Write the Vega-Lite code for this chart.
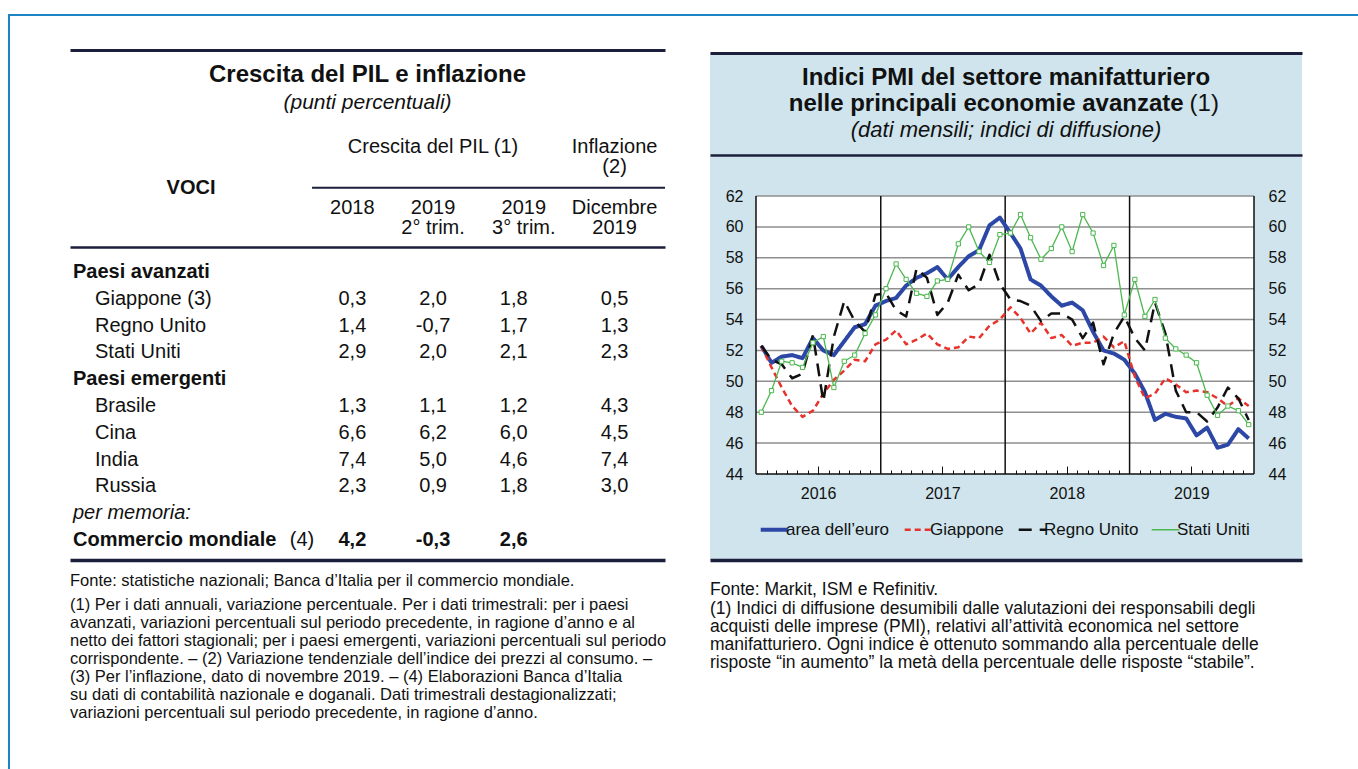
{
  "$schema": "https://vega.github.io/schema/vega-lite/v6.json",
  "padding": {"left": 8, "top": 14, "right": 0, "bottom": 0},
  "background": "white",
  "config": {
    "view": {"stroke": null},
    "font": "Liberation Sans",
    "locale": {"number": {"decimal": ",", "thousands": ".", "grouping": [3], "currency": ["", " €"], "minus": "-"}},
    "text": {"font": "Liberation Sans", "color": "#111"},
    "axis": {"labelFont": "Liberation Sans"},
    "legend": {"labelFont": "Liberation Sans"},
    "title": {"font": "Liberation Sans", "subtitleFont": "Liberation Sans"}
  },
  "datasets": {
    "intestazione": [
      {"riga": "h1", "colonna": "2019 II", "testo": "Crescita del PIL (1)"},
      {"riga": "h1", "colonna": "dic 2019", "testo": "Inflazione"},
      {"riga": "h2", "colonna": "dic 2019", "testo": "(2)"},
      {"riga": "mid", "colonna": "voci_c", "testo": "VOCI"},
      {"riga": "h3", "colonna": "2018", "testo": "2018"},
      {"riga": "h3", "colonna": "2019 II", "testo": "2019"},
      {"riga": "h3", "colonna": "2019 III", "testo": "2019"},
      {"riga": "h3", "colonna": "dic 2019", "testo": "Dicembre"},
      {"riga": "h4", "colonna": "2019 II", "testo": "2° trim."},
      {"riga": "h4", "colonna": "2019 III", "testo": "3° trim."},
      {"riga": "h4", "colonna": "dic 2019", "testo": "2019"}
    ],
    "tabella": [
      {"voce": "Paesi avanzati", "tipo": "gruppo"},
      {"voce": "Giappone (3)", "tipo": "paese", "2018": 0.3, "2019 II": 2.0, "2019 III": 1.8, "dic 2019": 0.5},
      {"voce": "Regno Unito", "tipo": "paese", "2018": 1.4, "2019 II": -0.7, "2019 III": 1.7, "dic 2019": 1.3},
      {"voce": "Stati Uniti", "tipo": "paese", "2018": 2.9, "2019 II": 2.0, "2019 III": 2.1, "dic 2019": 2.3},
      {"voce": "Paesi emergenti", "tipo": "gruppo"},
      {"voce": "Brasile", "tipo": "paese", "2018": 1.3, "2019 II": 1.1, "2019 III": 1.2, "dic 2019": 4.3},
      {"voce": "Cina", "tipo": "paese", "2018": 6.6, "2019 II": 6.2, "2019 III": 6.0, "dic 2019": 4.5},
      {"voce": "India", "tipo": "paese", "2018": 7.4, "2019 II": 5.0, "2019 III": 4.6, "dic 2019": 7.4},
      {"voce": "Russia", "tipo": "paese", "2018": 2.3, "2019 II": 0.9, "2019 III": 1.8, "dic 2019": 3.0},
      {"voce": "per memoria:", "tipo": "nota"},
      {"voce": "Commercio mondiale", "tipo": "totale", "rinvio": "(4)", "2018": 4.2, "2019 II": -0.3, "2019 III": 2.6}
    ],
    "griglia": [{"livello": 46}, {"livello": 48}, {"livello": 50}, {"livello": 52}, {"livello": 54}, {"livello": 56}, {"livello": 58}, {"livello": 60}, {"livello": 62}],
    "separatori": [{"anno": "2016-01-01"}, {"anno": "2017-01-01"}, {"anno": "2018-01-01"}, {"anno": "2019-01-01"}, {"anno": "2020-01-01"}],
    "pmi": [
      {"mese": "2016-01", "area dell’euro": 52.3, "Giappone": 52.3, "Regno Unito": 52.3, "Stati Uniti": 48.0},
      {"mese": "2016-02", "area dell’euro": 51.2, "Giappone": 50.9, "Regno Unito": 51.4, "Stati Uniti": 49.4},
      {"mese": "2016-03", "area dell’euro": 51.6, "Giappone": 49.6, "Regno Unito": 51.1, "Stati Uniti": 51.3},
      {"mese": "2016-04", "area dell’euro": 51.7, "Giappone": 48.4, "Regno Unito": 50.2, "Stati Uniti": 51.2},
      {"mese": "2016-05", "area dell’euro": 51.5, "Giappone": 47.7, "Regno Unito": 50.5, "Stati Uniti": 50.9},
      {"mese": "2016-06", "area dell’euro": 52.8, "Giappone": 48.1, "Regno Unito": 53.0, "Stati Uniti": 52.5},
      {"mese": "2016-07", "area dell’euro": 52.0, "Giappone": 49.2, "Regno Unito": 48.7, "Stati Uniti": 52.9},
      {"mese": "2016-08", "area dell’euro": 51.7, "Giappone": 50.1, "Regno Unito": 52.9, "Stati Uniti": 49.6},
      {"mese": "2016-09", "area dell’euro": 52.6, "Giappone": 50.7, "Regno Unito": 55.2, "Stati Uniti": 51.3},
      {"mese": "2016-10", "area dell’euro": 53.5, "Giappone": 51.4, "Regno Unito": 53.9, "Stati Uniti": 51.7},
      {"mese": "2016-11", "area dell’euro": 53.7, "Giappone": 51.3, "Regno Unito": 53.2, "Stati Uniti": 53.1},
      {"mese": "2016-12", "area dell’euro": 54.9, "Giappone": 52.4, "Regno Unito": 55.6, "Stati Uniti": 54.3},
      {"mese": "2017-01", "area dell’euro": 55.2, "Giappone": 52.7, "Regno Unito": 55.7, "Stati Uniti": 56.0},
      {"mese": "2017-02", "area dell’euro": 55.4, "Giappone": 53.3, "Regno Unito": 54.6, "Stati Uniti": 57.6},
      {"mese": "2017-03", "area dell’euro": 56.2, "Giappone": 52.4, "Regno Unito": 54.2, "Stati Uniti": 56.6},
      {"mese": "2017-04", "area dell’euro": 56.7, "Giappone": 52.7, "Regno Unito": 57.3, "Stati Uniti": 55.7},
      {"mese": "2017-05", "area dell’euro": 57.0, "Giappone": 53.1, "Regno Unito": 56.7, "Stati Uniti": 55.5},
      {"mese": "2017-06", "area dell’euro": 57.4, "Giappone": 52.4, "Regno Unito": 54.3, "Stati Uniti": 56.5},
      {"mese": "2017-07", "area dell’euro": 56.6, "Giappone": 52.1, "Regno Unito": 55.1, "Stati Uniti": 56.6},
      {"mese": "2017-08", "area dell’euro": 57.4, "Giappone": 52.2, "Regno Unito": 56.9, "Stati Uniti": 58.9},
      {"mese": "2017-09", "area dell’euro": 58.1, "Giappone": 52.9, "Regno Unito": 55.9, "Stati Uniti": 60.0},
      {"mese": "2017-10", "area dell’euro": 58.5, "Giappone": 52.8, "Regno Unito": 56.3, "Stati Uniti": 58.4},
      {"mese": "2017-11", "area dell’euro": 60.1, "Giappone": 53.6, "Regno Unito": 58.2, "Stati Uniti": 57.7},
      {"mese": "2017-12", "area dell’euro": 60.6, "Giappone": 54.0, "Regno Unito": 56.3, "Stati Uniti": 59.5},
      {"mese": "2018-01", "area dell’euro": 59.6, "Giappone": 54.8, "Regno Unito": 55.3, "Stati Uniti": 59.6},
      {"mese": "2018-02", "area dell’euro": 58.6, "Giappone": 54.1, "Regno Unito": 55.2, "Stati Uniti": 60.8},
      {"mese": "2018-03", "area dell’euro": 56.6, "Giappone": 53.1, "Regno Unito": 54.9, "Stati Uniti": 59.3},
      {"mese": "2018-04", "area dell’euro": 56.2, "Giappone": 53.8, "Regno Unito": 53.9, "Stati Uniti": 57.9},
      {"mese": "2018-05", "area dell’euro": 55.5, "Giappone": 52.8, "Regno Unito": 54.4, "Stati Uniti": 58.6},
      {"mese": "2018-06", "area dell’euro": 54.9, "Giappone": 53.0, "Regno Unito": 54.4, "Stati Uniti": 60.0},
      {"mese": "2018-07", "area dell’euro": 55.1, "Giappone": 52.3, "Regno Unito": 54.0, "Stati Uniti": 58.4},
      {"mese": "2018-08", "area dell’euro": 54.6, "Giappone": 52.5, "Regno Unito": 52.8, "Stati Uniti": 60.8},
      {"mese": "2018-09", "area dell’euro": 53.2, "Giappone": 52.5, "Regno Unito": 53.8, "Stati Uniti": 59.6},
      {"mese": "2018-10", "area dell’euro": 52.0, "Giappone": 52.9, "Regno Unito": 51.1, "Stati Uniti": 57.5},
      {"mese": "2018-11", "area dell’euro": 51.8, "Giappone": 52.2, "Regno Unito": 53.1, "Stati Uniti": 58.8},
      {"mese": "2018-12", "area dell’euro": 51.4, "Giappone": 52.6, "Regno Unito": 54.2, "Stati Uniti": 54.3},
      {"mese": "2019-01", "area dell’euro": 50.5, "Giappone": 50.3, "Regno Unito": 52.8, "Stati Uniti": 56.6},
      {"mese": "2019-02", "area dell’euro": 49.3, "Giappone": 48.9, "Regno Unito": 52.0, "Stati Uniti": 54.2},
      {"mese": "2019-03", "area dell’euro": 47.5, "Giappone": 49.2, "Regno Unito": 55.1, "Stati Uniti": 55.3},
      {"mese": "2019-04", "area dell’euro": 47.9, "Giappone": 50.2, "Regno Unito": 53.1, "Stati Uniti": 52.8},
      {"mese": "2019-05", "area dell’euro": 47.7, "Giappone": 49.8, "Regno Unito": 49.4, "Stati Uniti": 52.1},
      {"mese": "2019-06", "area dell’euro": 47.6, "Giappone": 49.3, "Regno Unito": 48.0, "Stati Uniti": 51.7},
      {"mese": "2019-07", "area dell’euro": 46.5, "Giappone": 49.4, "Regno Unito": 48.0, "Stati Uniti": 51.2},
      {"mese": "2019-08", "area dell’euro": 47.0, "Giappone": 49.3, "Regno Unito": 47.4, "Stati Uniti": 49.1},
      {"mese": "2019-09", "area dell’euro": 45.7, "Giappone": 48.9, "Regno Unito": 48.3, "Stati Uniti": 47.8},
      {"mese": "2019-10", "area dell’euro": 45.9, "Giappone": 48.4, "Regno Unito": 49.6, "Stati Uniti": 48.4},
      {"mese": "2019-11", "area dell’euro": 46.9, "Giappone": 48.9, "Regno Unito": 48.9, "Stati Uniti": 48.1},
      {"mese": "2019-12", "area dell’euro": 46.3, "Giappone": 48.4, "Regno Unito": 47.5, "Stati Uniti": 47.2}
    ]
  },
  "spacing": 0,
  "vconcat": [
    {"width": 1350, "height": 2, "data": {"values": []}, "mark": "point", "view": {"fill": "#1c83c5", "stroke": null}},
    {
      "spacing": 0,
      "hconcat": [
        {"width": 2, "height": 753, "data": {"values": []}, "mark": "point", "view": {"fill": "#1c83c5", "stroke": null}},
        {"width": 60, "height": 10, "data": {"values": []}, "mark": "point"},
        {
          "spacing": 0,
          "bounds": "flush",
          "vconcat": [
            {"width": 595, "height": 34, "data": {"values": []}, "mark": "point"},
            {
              "width": 595, "height": 75,
              "data": {"values": [
                {"tabella": "PIL", "riga": "titolo", "testo": "Crescita del PIL e inflazione"},
                {"tabella": "PIL", "riga": "sottotitolo", "testo": "(punti percentuali)"}
              ]},
              "encoding": {
                "x": {"field": "tabella", "type": "nominal", "scale": {"type": "point"},
                      "axis": {"orient": "top", "domain": true, "domainColor": "#1b1f3b", "domainWidth": 3, "ticks": false, "labels": false, "grid": false, "title": null}},
                "y": {"field": "riga", "type": "nominal", "scale": {"type": "point", "domain": ["titolo", "sottotitolo"], "padding": 0.839, "align": 0.532}, "axis": null},
                "text": {"field": "testo"}
              },
              "layer": [
                {"transform": [{"filter": "datum.riga === 'titolo'"}], "mark": {"type": "text", "fontSize": 24, "fontWeight": "bold", "color": "#111"}},
                {"transform": [{"filter": "datum.riga === 'sottotitolo'"}], "mark": {"type": "text", "fontSize": 21, "fontStyle": "italic", "color": "#111"}}
              ]
            },
            {
              "width": 595, "height": 122,
              "layer": [
                {
                  "data": {"name": "intestazione"},
                  "transform": [{"filter": "datum.testo !== 'VOCI'"}],
                  "mark": {"type": "text", "fontSize": 20, "color": "#111"},
                  "encoding": {
                    "x": {"field": "colonna", "type": "nominal",
                          "scale": {"type": "point", "padding": 0, "domain": ["voci", "g1", "g2", "g3", "g4", "g5", "g6", "g7", "g8", "g9", "g10", "g11", "voci_c", "g13", "g14", "g15", "g16", "g17", "g18", "g19", "g20", "g21", "g22", "rinvio", "inizio", "g25", "g26", "g27", "2018", "g29", "g30", "g31", "g32", "g33", "g34", "g35", "2019 II", "g37", "g38", "g39", "g40", "g41", "g42", "g43", "g44", "2019 III", "g46", "g47", "g48", "g49", "g50", "g51", "g52", "g53", "dic 2019", "g55", "g56", "g57", "g58", "fine"]},
                          "axis": {"orient": "top", "domain": true, "domainColor": "#1b1f3b", "domainWidth": 2.5, "ticks": false, "labels": false, "grid": false, "title": null}},
                    "y": {"field": "riga", "type": "nominal", "scale": {"type": "point", "domain": ["h1", "h2", "mid", "h3", "h4"], "padding": 1.03, "align": 0.54}, "axis": null},
                    "text": {"field": "testo"}
                  }
                },
                {
                  "data": {"name": "intestazione"},
                  "transform": [{"filter": "datum.testo === 'VOCI'"}],
                  "mark": {"type": "text", "fontSize": 20, "fontWeight": "bold", "color": "#111"},
                  "encoding": {
                    "x": {"field": "colonna", "type": "nominal", "axis": null},
                    "y": {"field": "riga", "type": "nominal", "axis": null},
                    "text": {"field": "testo"}
                  }
                },
                {
                  "data": {"values": [{"riga": "mid", "da": "inizio", "a": "fine"}]},
                  "mark": {"type": "rule", "color": "#1b1f3b", "strokeWidth": 2},
                  "encoding": {
                    "x": {"field": "da", "type": "nominal", "axis": null},
                    "x2": {"field": "a"},
                    "y": {"field": "riga", "type": "nominal", "axis": null}
                  }
                }
              ]
            },
            {
              "width": 595, "height": 313,
              "title": {
                "text": "Fonte: statistiche nazionali; Banca d’Italia per il commercio mondiale.",
                "subtitle": [
                  "(1) Per i dati annuali, variazione percentuale. Per i dati trimestrali: per i paesi",
                  "avanzati, variazioni percentuali sul periodo precedente, in ragione d’anno e al",
                  "netto dei fattori stagionali; per i paesi emergenti, variazioni percentuali sul periodo",
                  "corrispondente. – (2) Variazione tendenziale dell’indice dei prezzi al consumo. –",
                  "(3) Per l’inflazione, dato di novembre 2019. – (4) Elaborazioni Banca d’Italia",
                  "su dati di contabilità nazionale e doganali. Dati trimestrali destagionalizzati;",
                  "variazioni percentuali sul periodo precedente, in ragione d’anno."
                ],
                "orient": "bottom", "anchor": "start", "frame": "group", "offset": 13,
                "fontSize": 16.5, "fontWeight": "normal", "color": "#111",
                "subtitleFontSize": 16.5, "subtitleColor": "#111", "subtitleLineHeight": 18, "subtitlePadding": 7
              },
              "data": {"name": "tabella"},
              "layer": [
                {
                  "transform": [{"filter": "datum.tipo === 'gruppo'"}],
                  "mark": {"type": "text", "align": "left", "fontSize": 20, "fontWeight": "bold", "dx": 3},
                  "encoding": {
                    "x": {"datum": "voci", "type": "nominal",
                          "scale": {"type": "point", "padding": 0, "domain": ["voci", "g1", "g2", "g3", "g4", "g5", "g6", "g7", "g8", "g9", "g10", "g11", "voci_c", "g13", "g14", "g15", "g16", "g17", "g18", "g19", "g20", "g21", "g22", "rinvio", "inizio", "g25", "g26", "g27", "2018", "g29", "g30", "g31", "g32", "g33", "g34", "g35", "2019 II", "g37", "g38", "g39", "g40", "g41", "g42", "g43", "2019 III", "g45", "g46", "g47", "g48", "g49", "g50", "g51", "g52", "g53", "dic 2019", "g55", "g56", "g57", "g58", "fine"]},
                          "axis": {"orient": "top", "domain": true, "domainColor": "#1b1f3b", "domainWidth": 2.5, "ticks": false, "labels": false, "grid": false, "title": null}},
                    "y": {"field": "voce", "type": "nominal",
                          "scale": {"type": "point", "padding": 0.84, "align": 0.556, "domain": ["Paesi avanzati", "Giappone (3)", "Regno Unito", "Stati Uniti", "Paesi emergenti", "Brasile", "Cina", "India", "Russia", "per memoria:", "Commercio mondiale"]},
                          "axis": null},
                    "text": {"field": "voce"}
                  }
                },
                {
                  "transform": [{"filter": "datum.tipo === 'paese'"}],
                  "mark": {"type": "text", "align": "left", "fontSize": 20, "dx": 25},
                  "encoding": {
                    "x": {"datum": "voci", "type": "nominal", "axis": null},
                    "y": {"field": "voce", "type": "nominal", "axis": null},
                    "text": {"field": "voce"}
                  }
                },
                {
                  "transform": [{"filter": "datum.tipo === 'nota'"}],
                  "mark": {"type": "text", "align": "left", "fontSize": 20, "fontStyle": "italic", "dx": 3},
                  "encoding": {
                    "x": {"datum": "voci", "type": "nominal", "axis": null},
                    "y": {"field": "voce", "type": "nominal", "axis": null},
                    "text": {"field": "voce"}
                  }
                },
                {
                  "transform": [{"filter": "datum.tipo === 'totale'"}],
                  "mark": {"type": "text", "align": "left", "fontSize": 20, "fontWeight": "bold", "dx": 3},
                  "encoding": {
                    "x": {"datum": "voci", "type": "nominal", "axis": null},
                    "y": {"field": "voce", "type": "nominal", "axis": null},
                    "text": {"field": "voce"}
                  }
                },
                {
                  "transform": [{"filter": "datum.tipo === 'totale'"}],
                  "mark": {"type": "text", "fontSize": 20},
                  "encoding": {
                    "x": {"datum": "rinvio", "type": "nominal", "axis": null},
                    "y": {"field": "voce", "type": "nominal", "axis": null},
                    "text": {"field": "rinvio"}
                  }
                },
                {
                  "transform": [
                    {"fold": ["2018", "2019 II", "2019 III", "dic 2019"], "as": ["periodo", "valore"]},
                    {"filter": "datum.tipo === 'paese' && isValid(datum.valore)"}
                  ],
                  "mark": {"type": "text", "fontSize": 20},
                  "encoding": {
                    "x": {"field": "periodo", "type": "nominal",
                          "axis": {"orient": "bottom", "domain": true, "domainColor": "#1b1f3b", "domainWidth": 3.5, "ticks": false, "labels": false, "grid": false, "title": null}},
                    "y": {"field": "voce", "type": "nominal", "axis": null},
                    "text": {"field": "valore", "type": "quantitative", "format": ".1f"}
                  }
                },
                {
                  "transform": [
                    {"fold": ["2018", "2019 II", "2019 III", "dic 2019"], "as": ["periodo", "valore"]},
                    {"filter": "datum.tipo === 'totale' && isValid(datum.valore)"}
                  ],
                  "mark": {"type": "text", "fontSize": 20, "fontWeight": "bold"},
                  "encoding": {
                    "x": {"field": "periodo", "type": "nominal", "axis": null},
                    "y": {"field": "voce", "type": "nominal", "axis": null},
                    "text": {"field": "valore", "type": "quantitative", "format": ".1f"}
                  }
                }
              ],
              "resolve": {"axis": {"x": "independent"}}
            }
          ]
        },
        {"width": 43, "height": 10, "data": {"values": []}, "mark": "point"},
        {
          "spacing": 0,
          "bounds": "flush",
          "vconcat": [
            {"width": 592, "height": 37, "data": {"values": []}, "mark": "point"},
            {
              "width": 592, "height": 102,
              "view": {"fill": "#cfe4ec", "stroke": null},
              "data": {"values": [
                {"riga": "r1", "colonna": "centro", "elemento": "titolo", "testo": "Indici PMI del settore manifatturiero"},
                {"riga": "r2", "colonna": "rinvio", "elemento": "titolo", "testo": "nelle principali economie avanzate"},
                {"riga": "r2", "colonna": "rinvio", "elemento": "richiamo", "testo": "(1)"},
                {"riga": "r3", "colonna": "centro", "elemento": "sottotitolo", "testo": "(dati mensili; indici di diffusione)"}
              ]},
              "encoding": {
                "x": {"field": "colonna", "type": "nominal",
                      "scale": {"type": "point", "padding": 0, "domain": ["p0", "p1", "p2", "p3", "p4", "p5", "p6", "p7", "p8", "p9", "p10", "p11", "p12", "p13", "p14", "p15", "p16", "p17", "p18", "p19", "p20", "p21", "p22", "p23", "p24", "p25", "p26", "p27", "p28", "p29", "centro", "p31", "p32", "p33", "p34", "p35", "p36", "p37", "p38", "p39", "p40", "p41", "p42", "p43", "p44", "p45", "p46", "p47", "rinvio", "p49", "p50", "p51", "p52", "p53", "p54", "p55", "p56", "p57", "p58", "p59", "p60"]},
                      "axis": {"orient": "top", "domain": true, "domainColor": "#1b1f3b", "domainWidth": 3, "ticks": false, "labels": false, "grid": false, "title": null}},
                "y": {"field": "riga", "type": "nominal", "scale": {"type": "point", "domain": ["r1", "r2", "r3"], "padding": 0.96}, "axis": null},
                "text": {"field": "testo"}
              },
              "layer": [
                {"transform": [{"filter": "datum.riga === 'r1'"}], "mark": {"type": "text", "fontSize": 24, "fontWeight": "bold", "color": "#111"}},
                {"transform": [{"filter": "datum.riga === 'r2' && datum.elemento === 'titolo'"}], "mark": {"type": "text", "align": "right", "fontSize": 24, "fontWeight": "bold", "color": "#111"}},
                {"transform": [{"filter": "datum.elemento === 'richiamo'"}], "mark": {"type": "text", "align": "left", "dx": 6, "fontSize": 24, "color": "#111"}},
                {"transform": [{"filter": "datum.riga === 'r3'"}], "mark": {"type": "text", "fontSize": 22, "fontStyle": "italic", "color": "#111"}}
              ]
            },
            {
              "width": 592, "height": 405,
              "view": {"fill": "#cfe4ec", "stroke": null},
              "title": {
                "text": "Fonte: Markit, ISM e Refinitiv.",
                "subtitle": [
                  "(1) Indici di diffusione desumibili dalle valutazioni dei responsabili degli",
                  "acquisti delle imprese (PMI), relativi all’attività economica nel settore",
                  "manifatturiero. Ogni indice è ottenuto sommando alla percentuale delle",
                  "risposte “in aumento” la metà della percentuale delle risposte “stabile”."
                ],
                "orient": "bottom", "anchor": "start", "frame": "group", "offset": 21,
                "fontSize": 17.5, "fontWeight": "normal", "color": "#111",
                "subtitleFontSize": 17.5, "subtitleColor": "#111", "subtitleLineHeight": 18, "subtitlePadding": 1
              },
              "layer": [
                {
                  "data": {"values": [{"riquadro": "area del grafico"}]},
                  "mark": {"type": "rect", "fill": "white"},
                  "encoding": {
                    "x": {"datum": {"year": 2016, "month": 1, "date": 1, "utc": true}, "type": "temporal",
                          "scale": {"type": "utc", "nice": false, "domain": [{"year": 2015, "month": 8, "date": 19, "hours": 1, "utc": true}, {"year": 2020, "month": 5, "date": 20, "hours": 19, "minutes": 41, "utc": true}]},
                          "axis": {"orient": "top", "domain": true, "domainColor": "#1b1f3b", "domainWidth": 2.5, "ticks": false, "labels": false, "grid": false, "title": null}},
                    "x2": {"datum": {"year": 2020, "month": 1, "date": 1, "utc": true}},
                    "y": {"datum": 44, "type": "quantitative", "scale": {"domain": [38.432, 64.655], "nice": false, "zero": false},
                          "axis": {"orient": "left", "offset": -46, "values": [44, 46, 48, 50, 52, 54, 56, 58, 60, 62], "domain": false, "ticks": false, "grid": false, "labelPadding": 13, "labelFontSize": 16, "labelColor": "#111", "labelFlush": false, "labelOverlap": false, "title": null}},
                    "y2": {"datum": 62}
                  }
                },
                {
                  "data": {"name": "griglia"},
                  "mark": {"type": "rule", "color": "#8f8f8f", "strokeWidth": 1.5},
                  "encoding": {
                    "x": {"datum": {"year": 2016, "month": 1, "date": 1, "utc": true}, "type": "temporal", "axis": null},
                    "x2": {"datum": {"year": 2020, "month": 1, "date": 1, "utc": true}},
                    "y": {"field": "livello", "type": "quantitative", "axis": null}
                  }
                },
                {
                  "data": {"values": [{"bordo": "asse inferiore"}]},
                  "mark": {"type": "rule", "color": "#111", "strokeWidth": 1.5},
                  "encoding": {
                    "x": {"datum": {"year": 2016, "month": 1, "date": 1, "utc": true}, "type": "temporal", "axis": null},
                    "x2": {"datum": {"year": 2020, "month": 1, "date": 1, "utc": true}},
                    "y": {"datum": 44, "type": "quantitative", "axis": null}
                  }
                },
                {
                  "data": {"name": "separatori"},
                  "mark": {"type": "rule", "color": "#111", "strokeWidth": 1.5},
                  "encoding": {
                    "x": {"field": "anno", "type": "temporal",
                          "axis": {"orient": "bottom", "domain": true, "domainColor": "#1b1f3b", "domainWidth": 3.5, "ticks": false, "labels": false, "grid": false, "title": null}},
                    "y": {"datum": 44, "type": "quantitative", "axis": null},
                    "y2": {"datum": 62}
                  }
                },
                {
                  "data": {"name": "pmi"},
                  "transform": [{"fold": ["area dell’euro", "Giappone", "Regno Unito", "Stati Uniti"], "as": ["serie", "valore"]}],
                  "mark": {"type": "line", "strokeJoin": "round"},
                  "encoding": {
                    "x": {"field": "mese", "type": "temporal", "timeUnit": "utcyearmonth", "bandPosition": 0.5,
                          "axis": {"orient": "bottom", "offset": -86, "domain": false, "grid": false, "labels": false, "ticks": true, "tickSize": -4, "tickColor": "#111", "tickWidth": 1, "zindex": 1, "title": null,
                                   "values": [
                                     {"year": 2016, "month": 2, "utc": true}, {"year": 2016, "month": 3, "utc": true}, {"year": 2016, "month": 4, "utc": true}, {"year": 2016, "month": 5, "utc": true}, {"year": 2016, "month": 6, "utc": true}, {"year": 2016, "month": 7, "utc": true}, {"year": 2016, "month": 8, "utc": true}, {"year": 2016, "month": 9, "utc": true}, {"year": 2016, "month": 10, "utc": true}, {"year": 2016, "month": 11, "utc": true}, {"year": 2016, "month": 12, "utc": true},
                                     {"year": 2017, "month": 2, "utc": true}, {"year": 2017, "month": 3, "utc": true}, {"year": 2017, "month": 4, "utc": true}, {"year": 2017, "month": 5, "utc": true}, {"year": 2017, "month": 6, "utc": true}, {"year": 2017, "month": 7, "utc": true}, {"year": 2017, "month": 8, "utc": true}, {"year": 2017, "month": 9, "utc": true}, {"year": 2017, "month": 10, "utc": true}, {"year": 2017, "month": 11, "utc": true}, {"year": 2017, "month": 12, "utc": true},
                                     {"year": 2018, "month": 2, "utc": true}, {"year": 2018, "month": 3, "utc": true}, {"year": 2018, "month": 4, "utc": true}, {"year": 2018, "month": 5, "utc": true}, {"year": 2018, "month": 6, "utc": true}, {"year": 2018, "month": 7, "utc": true}, {"year": 2018, "month": 8, "utc": true}, {"year": 2018, "month": 9, "utc": true}, {"year": 2018, "month": 10, "utc": true}, {"year": 2018, "month": 11, "utc": true}, {"year": 2018, "month": 12, "utc": true},
                                     {"year": 2019, "month": 2, "utc": true}, {"year": 2019, "month": 3, "utc": true}, {"year": 2019, "month": 4, "utc": true}, {"year": 2019, "month": 5, "utc": true}, {"year": 2019, "month": 6, "utc": true}, {"year": 2019, "month": 7, "utc": true}, {"year": 2019, "month": 8, "utc": true}, {"year": 2019, "month": 9, "utc": true}, {"year": 2019, "month": 10, "utc": true}, {"year": 2019, "month": 11, "utc": true}, {"year": 2019, "month": 12, "utc": true}
                                   ]}},
                    "y": {"field": "valore", "type": "quantitative",
                          "axis": {"orient": "right", "offset": -48, "values": [44, 46, 48, 50, 52, 54, 56, 58, 60, 62], "domain": false, "ticks": false, "grid": false, "labelPadding": 14, "labelFontSize": 16, "labelColor": "#111", "labelFlush": false, "labelOverlap": false, "title": null}},
                    "color": {"field": "serie", "type": "nominal",
                              "scale": {"domain": ["area dell’euro", "Giappone", "Regno Unito", "Stati Uniti"], "range": ["#2c47a6", "#e8332c", "#111111", "#4cb84f"]},
                              "legend": {"orient": "none", "legendX": 758, "legendY": 507, "direction": "horizontal", "columns": 4, "title": null, "labelFontSize": 17, "labelColor": "#111", "symbolSize": 760, "symbolType": "stroke", "columnPadding": 9, "labelOffset": 3,
                                         "encode": {"symbols": {"update": {"strokeWidth": {"signal": "datum.value === 'area dell’euro' ? 4 : datum.value === 'Stati Uniti' ? 1.5 : 2.5"}}}}}},
                    "strokeDash": {"field": "serie", "type": "nominal",
                                   "scale": {"domain": ["area dell’euro", "Giappone", "Regno Unito", "Stati Uniti"], "range": [[1, 0], [6, 4], [13, 8], [1, 0]]},
                                   "legend": {"orient": "none", "legendX": 758, "legendY": 507, "direction": "horizontal", "columns": 4, "title": null, "labelFontSize": 17, "labelColor": "#111", "symbolSize": 760, "symbolType": "stroke", "columnPadding": 9, "labelOffset": 3,
                                              "encode": {"symbols": {"update": {"strokeWidth": {"signal": "datum.value === 'area dell’euro' ? 4 : datum.value === 'Stati Uniti' ? 1.5 : 2.5"}}}}}},
                    "strokeWidth": {"condition": [{"test": "datum.serie === 'area dell’euro'", "value": 4}, {"test": "datum.serie === 'Stati Uniti'", "value": 1.3}], "value": 2.5}
                  }
                },
                {
                  "data": {"name": "pmi"},
                  "mark": {"type": "point", "shape": "square", "size": 18, "filled": true, "fill": "white", "stroke": "#4cb84f", "strokeWidth": 1, "opacity": 1},
                  "encoding": {
                    "x": {"field": "mese", "type": "temporal", "timeUnit": "utcyearmonth", "bandPosition": 0.5,
                          "axis": {"orient": "bottom", "offset": -86, "domain": false, "grid": false, "ticks": true, "tickSize": -8, "tickColor": "#111", "tickWidth": 1, "zindex": 1, "title": null,
                                   "values": [{"year": 2016, "month": 7, "utc": true}, {"year": 2017, "month": 7, "utc": true}, {"year": 2018, "month": 7, "utc": true}, {"year": 2019, "month": 7, "utc": true}],
                                   "format": "%Y", "labelFontSize": 16, "labelColor": "#111", "labelPadding": 19, "labelFlush": false, "labelOverlap": false}},
                    "y": {"field": "Stati Uniti", "type": "quantitative", "axis": null}
                  }
                }
              ],
              "resolve": {"axis": {"x": "independent", "y": "independent"}}
            }
          ]
        }
      ]
    }
  ]
}
